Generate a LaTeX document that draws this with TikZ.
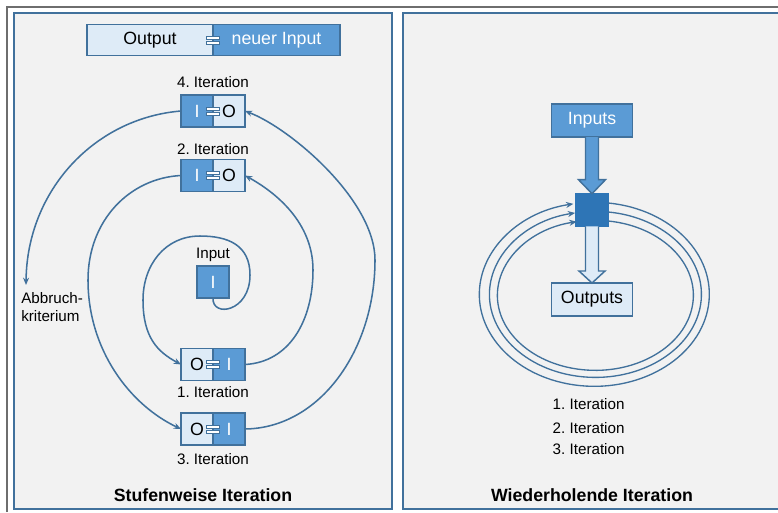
\documentclass[tikz,border=0pt]{standalone}
\usepackage{fontspec}
\setmainfont{Liberation Sans}
\usetikzlibrary{positioning,calc,arrows.meta}
\frenchspacing

\definecolor{rahmen}{RGB}{65,113,156}
\definecolor{mittelblau}{RGB}{91,155,213}
\definecolor{hellblau}{RGB}{222,235,247}
\definecolor{kernblau}{RGB}{46,117,182}
\definecolor{hgrund}{RGB}{242,242,242}
\definecolor{randgrau}{RGB}{110,110,110}
\newcommand{\grossschrift}{\fontsize{13.3}{16}\selectfont}
\newcommand{\kleinschrift}{\fontsize{11.4}{14}\selectfont}

\begin{document}
\begin{tikzpicture}[
    x=0.75pt, y=-0.75pt,
    every node/.style={font=\kleinschrift},
    panel/.style={draw=rahmen, line width=1.5pt, fill=hgrund},
    dunkel/.style={rectangle, draw=rahmen, line width=1.3pt, fill=mittelblau, text=white, font=\grossschrift, minimum width=24pt, minimum height=24pt, inner sep=0pt, outer sep=0pt},
    hell/.style={dunkel, fill=hellblau, text=black},
    kern/.style={rectangle, draw=kernblau, fill=kernblau, minimum width=24.5pt, minimum height=24.5pt, inner sep=0pt, outer sep=0pt},
    stecker/.style={draw=rahmen, fill=white, line width=0.5pt},
    arrow/.style={->, >={Stealth[length=5.5pt,width=4.5pt]}, draw=rahmen, line width=1.15pt},
    ring/.style={arrow, line width=1pt},
    blockpfeil/.style={draw=rahmen, line width=1.1pt, line join=miter}
]
\fill[white] (0,0) rectangle (778,512);
\useasboundingbox (0,0) rectangle (778,512);

% Rahmen
\draw[randgrau, line width=1.6pt] (7,512) -- (7,7) -- (778,7);
\draw[panel] (14,12.5) rectangle (391.5,508.5);
\fill[hgrund] (403,12.5) rectangle (778,508.5);
\draw[rahmen, line width=1.5pt] (778,12.5) -- (403,12.5) -- (403,508.5) -- (778,508.5);

% Stufenweise Iteration
\node[hell, minimum width=94.5pt, minimum height=23.25pt] (ausgabe) at (150,40) {Output};
\node[dunkel, minimum width=95.25pt, minimum height=23.25pt, right=0pt of ausgabe] (neuin) {neuer Input};

\node[dunkel] (in4) at (197,111) {I};
\node[hell, right=0pt of in4] (out4) {O};
\node (lab4) at (213,82) {4. Iteration};

\node[dunkel] (in2) at (197,175.5) {I};
\node[hell, right=0pt of in2] (out2) {O};
\node (lab2) at (213,149) {2. Iteration};

\node[dunkel] (inp) at (213,282) {I};
\node (labinp) at (213,255) {Input};

\node[hell] (out1) at (197,364.5) {O};
\node[dunkel, right=0pt of out1] (in1) {I};
\node (lab1) at (213,392) {1. Iteration};

\node[hell] (out3) at (197,429) {O};
\node[dunkel, right=0pt of out3] (in3) {I};
\node (lab3) at (213,459) {3. Iteration};

\foreach \k in {ausgabe,in4,in2,out1,out3}
  \draw[stecker] ($(\k.east)+(-6.5,-4)$) rectangle ++(13,3)
                 ($(\k.east)+(-6.5,1)$) rectangle ++(13,3);

\node[align=left, anchor=north west, inner sep=0pt] (abbruch) at (21,292) {Abbruch-\\kriterium};
\coordinate (stop) at (26,285);

\draw[arrow] (inp.south) .. controls (212,318) and (250,312) .. (250,275)
    .. controls (250,245) and (228,236) .. (200,236)
    .. controls (165,236) and (143,265) .. (143,300)
    .. controls (143,338) and (158,352) .. (out1.west);
\draw[arrow] (in1.east) .. controls (290,362) and (313,320) .. (313,270)
    .. controls (313,222) and (275,192) .. (out2.east);
\draw[arrow] (in2.west) .. controls (130,178) and (88,220) .. (88,280)
    .. controls (88,350) and (130,405) .. (out3.west);
\draw[arrow] (in3.east) .. controls (320,428) and (375,350) .. (375,260)
    .. controls (375,200) and (290,128) .. (out4.east);
\draw[arrow] (in4.west) .. controls (95,118) and (27,190) .. (stop);

\node[font=\grossschrift\bfseries] (titel1) at (203,495) {Stufenweise Iteration};

% Wiederholende Iteration
\node[dunkel, minimum width=60.75pt, minimum height=24.75pt] (inputs) at (592,120.5) {Inputs};
\node[kern] (sq) at (592,210) {};
\node[hell, minimum width=60.75pt, minimum height=24.75pt] (outputs) at (592,299.5) {Outputs};

\draw[blockpfeil, fill=mittelblau] ($(inputs.south)+(-6.5,0)$) -- ($(sq.north)+(-6.5,-14)$)
    -- ($(sq.north)+(-13.5,-14)$) -- (sq.north) -- ($(sq.north)+(13.5,-14)$)
    -- ($(sq.north)+(6.5,-14)$) -- ($(inputs.south)+(6.5,0)$);
\draw[blockpfeil, fill=hellblau] ($(sq.south)+(-6.5,0)$) -- ($(outputs.north)+(-6.5,-12)$)
    -- ($(outputs.north)+(-13,-12)$) -- (outputs.north) -- ($(outputs.north)+(13,-12)$)
    -- ($(outputs.north)+(6.5,-12)$) -- ($(sq.south)+(6.5,0)$);

\draw[ring] ($(sq.east)+(0,-7)$) arc[start angle=-83, end angle=259.5, x radius=115, y radius=92];
\draw[ring] ($(sq.east)+(0,2)$) arc[start angle=-83, end angle=259, x radius=106, y radius=83];
\draw[ring] ($(sq.east)+(0,11)$) arc[start angle=-82.4, end angle=259, x radius=98, y radius=75];

\node[anchor=west] (it1) at (548,404) {1. Iteration};
\node[anchor=west] (it2) at (548,428) {2. Iteration};
\node[anchor=west] (it3) at (548,449) {3. Iteration};

\node[font=\grossschrift\bfseries] (titel2) at (592,495) {Wiederholende Iteration};

\end{tikzpicture}
\end{document}
